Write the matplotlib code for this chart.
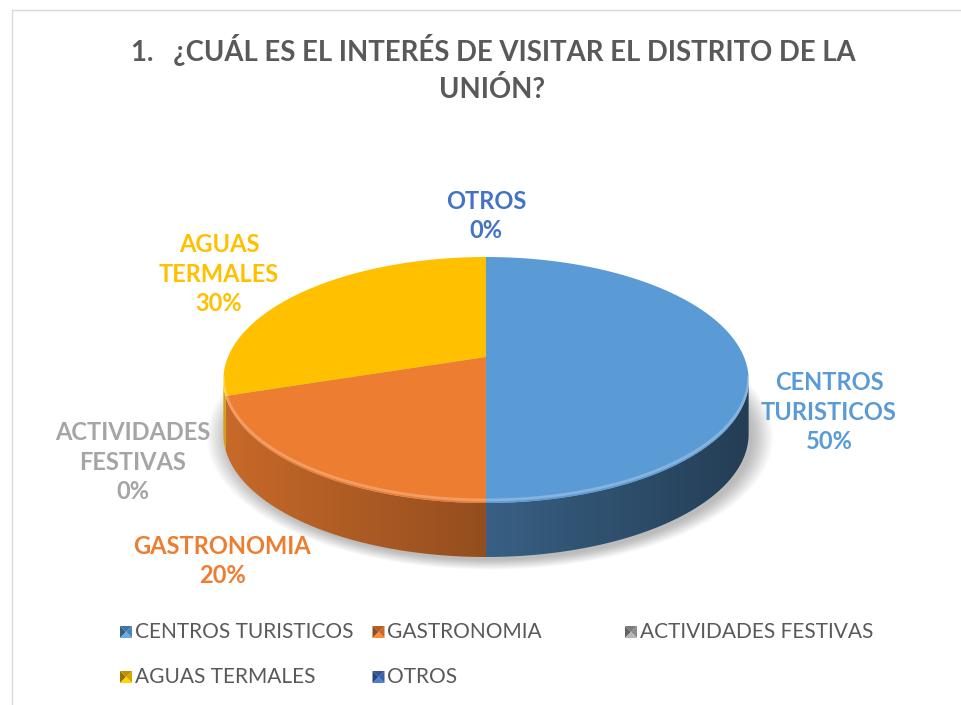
import numpy as np
import matplotlib.pyplot as plt
from matplotlib.colors import to_rgb
from matplotlib.patches import Polygon

# data
categories = ['CENTROS TURISTICOS', 'GASTRONOMIA', 'ACTIVIDADES FESTIVAS', 'AGUAS TERMALES', 'OTROS']
values = [50, 20, 0, 30, 0]
label_text = ['CENTROS\nTURISTICOS', 'GASTRONOMIA', 'ACTIVIDADES\nFESTIVAS', 'AGUAS\nTERMALES', 'OTROS']
colors = ['#5B9BD5', '#ED7D31', '#A5A5A5', '#FFC000', '#4472C4']

# where excel put the data labels (pixel coords)
label_pos = [(829, 412), (222, 561), (133, 462), (219, 274), (486, 216)]

plt.rcParams['font.family'] = ['Lato', 'DejaVu Sans']

# pie geometry (pixels), simple perspective so the far half looks flatter
cx, cy = 486, 357
A, B, p = 258, 118.7, 0.187
depth = 54


def project(theta):
    # theta in degrees, clockwise from 12 o'clock
    t = np.radians(theta)
    u, v = np.sin(t), np.cos(t)
    d = 1 + p * v
    return cx + A * u / d, cy - B * v / d


fig = plt.figure(figsize=(9.61, 7.05), dpi=100)
ax = fig.add_axes([0, 0, 1, 1])
ax.set_xlim(0, 961)
ax.set_ylim(705, 0)
ax.axis('off')

# chart border
ax.plot([12, 12, 961], [705, 10, 10], color='#D9D9D9', lw=1)

pct = np.array(values) / sum(values)
bounds = np.concatenate([[0], np.cumsum(pct) * 360])

# soft shadow under the pie
tt = np.linspace(0, 360, 240)
sx, sy = project(tt)
ecy = (project(0)[1] + project(180)[1]) / 2
for k in range(14):
    g = 1 + k * 0.006
    ax.fill(cx + (sx - cx) * g + 4, ecy + (sy - ecy) * g + depth + 3,
            color='k', alpha=0.018, lw=0)

# side of the pie (only the front part is visible), shaded left -> right
th_r = np.degrees(np.arccos(-p))
th_l = 360 - th_r
for i, val in enumerate(values):
    a0, a1 = max(bounds[i], th_r), min(bounds[i + 1], th_l)
    if a1 <= a0:
        continue
    ts = np.linspace(a0, a1, 200)
    x, y = project(ts)
    verts = np.column_stack([np.r_[x, x[::-1]], np.r_[y, y[::-1] + depth]])
    poly = Polygon(verts, closed=True, fc='none', ec='none')
    ax.add_patch(poly)
    base = np.array(to_rgb(colors[i]))
    x_lo, x_hi = x.min() - 2, x.max() + 2
    xs = np.linspace(x_lo, x_hi, 300)
    u = np.clip((xs - cx) / A, -1, 1)
    shade = 0.62 - 0.22 * u
    img = np.clip(base[None, None, :] * shade[None, :, None], 0, 1)
    im = ax.imshow(img, extent=(x_lo, x_hi, y.max() + depth + 2, y.min() - 2),
                   aspect='auto', interpolation='bilinear', zorder=1)
    im.set_clip_path(poly)

# top face
for i, val in enumerate(values):
    if val == 0:
        continue
    ts = np.linspace(bounds[i], bounds[i + 1], 120)
    x, y = project(ts)
    ax.fill(np.r_[cx, x], np.r_[cy, y], color=colors[i], lw=0, zorder=2)

# light bevel line along the front rim
ts = np.linspace(th_r, th_l, 200)
bx, by = project(ts)
ax.plot(bx, by - 3, color='white', alpha=0.25, lw=2, solid_capstyle='round', zorder=3)

# data labels
for i, val in enumerate(values):
    x, y = label_pos[i]
    ax.text(x, y, f'{label_text[i]}\n{val}%', ha='center', va='center',
            fontsize=17, fontweight='bold', color=colors[i], linespacing=1.32)

# title
ax.text(493, 50, '1.   ¿CUÁL ES EL INTERÉS DE VISITAR EL DISTRITO DE LA',
        ha='center', va='center', fontsize=19.8, fontweight='bold', color='#595959')
ax.text(492, 90, 'UNIÓN?', ha='center', va='center', fontsize=19.8,
        fontweight='bold', color='#595959')

# legend, laid out like excel (equal column widths)
leg_x0, leg_dx = 120, 252.5
leg_rows = [632, 677]
ms = 6
for i, name in enumerate(categories):
    col, row = i % 3, i // 3
    x = leg_x0 + col * leg_dx + ms
    y = leg_rows[row]
    base = np.array(to_rgb(colors[i]))
    # little bevelled square
    ax.fill([x - ms, x - ms, x], [y - ms, y + ms, y], color=base * 0.6, lw=0)
    ax.fill([x + ms, x + ms, x], [y - ms, y + ms, y], color=base * 0.85, lw=0)
    ax.fill([x - ms, x + ms, x], [y - ms, y - ms, y], color=base * 0.75, lw=0)
    ax.fill([x - ms, x + ms, x], [y + ms, y + ms, y], color=np.clip(base * 1.1, 0, 1), lw=0)
    ax.text(x + ms + 3, y, name, ha='left', va='center', fontsize=15, color='#595959')

fig.savefig('out.png', dpi=100)
